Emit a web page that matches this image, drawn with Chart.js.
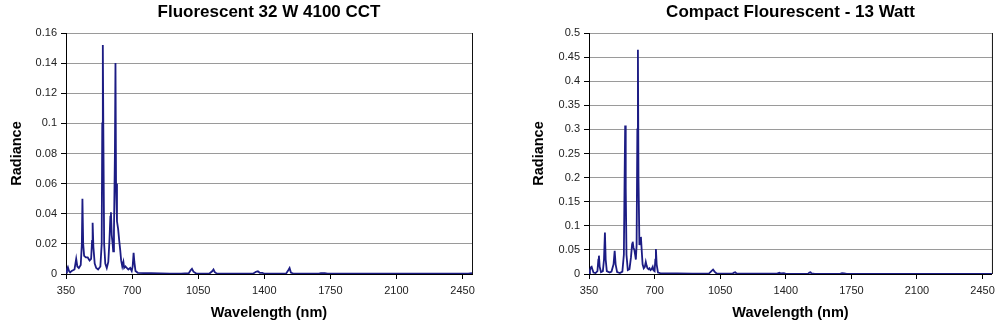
<!DOCTYPE html>
<html>
<head>
<meta charset="utf-8">
<script src="https://cdn.jsdelivr.net/npm/chart.js@4.4.1/dist/chart.umd.min.js"></script>
<style>
    html, body { margin: 0; padding: 0; background: #fff; }
    .wrap { position: absolute; top: 0; width: 500px; height: 324px; }
</style>
</head>
<body>
<div class="wrap" style="left:0"><canvas id="chart-left" width="500" height="324"></canvas></div>
<div class="wrap" style="left:500px"><canvas id="chart-right" width="500" height="324"></canvas></div>
<script>
// Spectral radiance

const xTicks = [350, 700, 1050, 1400, 1750, 2100, 2450];

// Fluorescent 32 W 4100 CCT
const wlLeft = [350, 355, 360, 366, 372, 380, 395, 404, 410, 418, 428, 434, 437, 441, 446, 455, 465, 475, 483, 488, 491, 495, 502, 510, 520, 532, 539, 542, 545, 548, 552, 558, 566, 574, 580, 585, 588, 592, 597, 600, 604, 609, 612, 615, 620, 626, 632, 637, 642, 648, 654, 658, 665, 672, 680, 690, 698, 703, 708, 712, 718, 730, 760, 800, 850, 900, 960, 1000, 1010, 1017, 1025, 1040, 1110, 1124, 1131, 1138, 1150, 1340, 1356, 1366, 1376, 1390, 1400, 1515, 1527, 1534, 1541, 1555, 1690, 1700, 1720, 1735, 2480, 2500];
const radLeft = [0.001, 0.003, 0.0045, 0.002, 0.001, 0.002, 0.003, 0.010, 0.005, 0.004, 0.006, 0.020, 0.050, 0.020, 0.012, 0.011, 0.011, 0.009, 0.010, 0.022, 0.034, 0.018, 0.007, 0.004, 0.003, 0.005, 0.020, 0.100, 0.152, 0.090, 0.020, 0.007, 0.004, 0.008, 0.022, 0.038, 0.041, 0.026, 0.020, 0.015, 0.028, 0.080, 0.140, 0.060, 0.035, 0.030, 0.022, 0.016, 0.009, 0.005, 0.008, 0.004, 0.005, 0.004, 0.003, 0.004, 0.002, 0.005, 0.014, 0.008, 0.002, 0.0008, 0.0006, 0.0005, 0.0004, 0.0003, 0.0003, 0.0005, 0.0025, 0.0035, 0.0015, 0.0003, 0.0003, 0.0018, 0.003, 0.0012, 0.0002, 0.0002, 0.0015, 0.0018, 0.0008, 0.0008, 0.0002, 0.0002, 0.0025, 0.004, 0.001, 0.0002, 0.0002, 0.0006, 0.0006, 0.0002, 0.0002, 0.0005];
const yTicksLeft = [0, 0.02, 0.04, 0.06, 0.08, 0.1, 0.12, 0.14, 0.16];

// Compact Flourescent - 13 Watt
const wlRight = [350, 355, 360, 364, 368, 374, 385, 395, 400, 403, 407, 414, 424, 430, 435, 439, 445, 460, 470, 481, 487, 492, 500, 515, 528, 536, 540, 543, 546, 550, 557, 566, 574, 580, 583, 587, 592, 597, 600, 604, 608, 611, 614, 619, 624, 627, 631, 636, 642, 648, 653, 657, 662, 668, 673, 678, 684, 690, 694, 700, 704, 707, 711, 718, 730, 760, 820, 900, 990, 1003, 1012, 1020, 1032, 1115, 1124, 1130, 1137, 1150, 1350, 1360, 1366, 1374, 1390, 1400, 1518, 1526, 1532, 1538, 1555, 1690, 1700, 1712, 1725, 2500];
const radRight = [0.002, 0.008, 0.014, 0.015, 0.010, 0.003, 0.002, 0.006, 0.030, 0.038, 0.015, 0.004, 0.006, 0.030, 0.086, 0.030, 0.006, 0.003, 0.005, 0.020, 0.048, 0.020, 0.004, 0.002, 0.005, 0.040, 0.200, 0.308, 0.180, 0.040, 0.008, 0.010, 0.035, 0.062, 0.067, 0.055, 0.050, 0.038, 0.030, 0.060, 0.300, 0.465, 0.200, 0.060, 0.072, 0.077, 0.050, 0.020, 0.012, 0.015, 0.025, 0.018, 0.012, 0.010, 0.012, 0.008, 0.010, 0.015, 0.008, 0.006, 0.030, 0.052, 0.020, 0.003, 0.002, 0.0015, 0.001, 0.0005, 0.001, 0.006, 0.009, 0.005, 0.0005, 0.0005, 0.003, 0.0035, 0.001, 0.0005, 0.0005, 0.002, 0.0025, 0.001, 0.0015, 0.0003, 0.0003, 0.003, 0.0035, 0.001, 0.0003, 0.0003, 0.0015, 0.0012, 0.0003, 0.0003];
const yTicksRight = [0, 0.05, 0.1, 0.15, 0.2, 0.25, 0.3, 0.35, 0.4, 0.45, 0.5];

const FONT = "'Liberation Sans', Arial, sans-serif";

// black frame line on the right edge of the plot area
const rightBorder = {
    id: 'rightBorder',
    afterDraw(chart) {
        const { ctx, chartArea } = chart;
        ctx.save();
        ctx.strokeStyle = '#111';
        ctx.lineWidth = 1;
        ctx.beginPath();
        ctx.moveTo(chartArea.right + 0.5, chartArea.top);
        ctx.lineTo(chartArea.right + 0.5, chartArea.bottom);
        ctx.stroke();
        ctx.restore();
    }
};

function makeChart(id, title, wl, rad, yTicks, yAxisWidth, padRight, yTitlePad) {
    const ctx = document.getElementById(id).getContext('2d');
    return new Chart(ctx, {
        type: 'line',
        data: {
            datasets: [{
                data: wl.map((w, i) => ({ x: w, y: rad[i] })),
                borderColor: '#1c1c84',
                borderWidth: 1.8,
                pointRadius: 0,
                tension: 0,
                fill: false
            }]
        },
        options: {
            responsive: false,
            animation: false,
            layout: { padding: { top: 0, left: 0, right: padRight, bottom: 0 } },
            plugins: {
                legend: { display: false },
                tooltip: { enabled: false },
                title: {
                    display: true,
                    text: title,
                    fullSize: false,
                    color: '#000',
                    font: { family: FONT, size: 17, weight: 'bold' },
                    padding: { top: 2, bottom: 10.6 }
                }
            },
            scales: {
                x: {
                    type: 'linear',
                    min: 350,
                    max: 2500,
                    afterBuildTicks: scale => { scale.ticks = xTicks.map(v => ({ value: v })); },
                    afterFit: scale => { scale.height = 50; },
                    grid: { drawOnChartArea: false, drawTicks: true, tickLength: 5, tickColor: '#000' },
                    border: { color: '#000', width: 1 },
                    ticks: { color: '#222', font: { family: FONT, size: 11 }, padding: 5, maxRotation: 0, autoSkip: false, callback: v => String(v) },
                    title: {
                        display: true,
                        text: 'Wavelength (nm)',
                        color: '#000',
                        font: { family: FONT, size: 14.5, weight: 'bold' },
                        padding: { top: 0, bottom: 2 }
                    }
                },
                y: {
                    min: 0,
                    max: yTicks[yTicks.length - 1],
                    afterBuildTicks: scale => { scale.ticks = yTicks.map(v => ({ value: v })); },
                    afterFit: scale => { scale.width = yAxisWidth; },
                    grid: { color: '#9a9a9a', lineWidth: 1, drawTicks: true, tickLength: 5, tickColor: '#000' },
                    border: { color: '#000', width: 1 },
                    ticks: { color: '#222', font: { family: FONT, size: 11 }, padding: 4, callback: v => String(v) },
                    title: {
                        display: true,
                        text: 'Radiance',
                        color: '#000',
                        font: { family: FONT, size: 14.5, weight: 'bold' },
                        padding: { top: yTitlePad, bottom: 0 }
                    }
                }
            }
        },
        plugins: [rightBorder]
    });
}

document.addEventListener('DOMContentLoaded', () => {
    makeChart('chart-left', 'Fluorescent 32 W 4100 CCT', wlLeft, radLeft, yTicksLeft, 66, 28, 8);
    makeChart('chart-right', 'Compact Flourescent - 13 Watt', wlRight, radRight, yTicksRight, 89, 7, 30);
});
</script>
</body>
</html>
